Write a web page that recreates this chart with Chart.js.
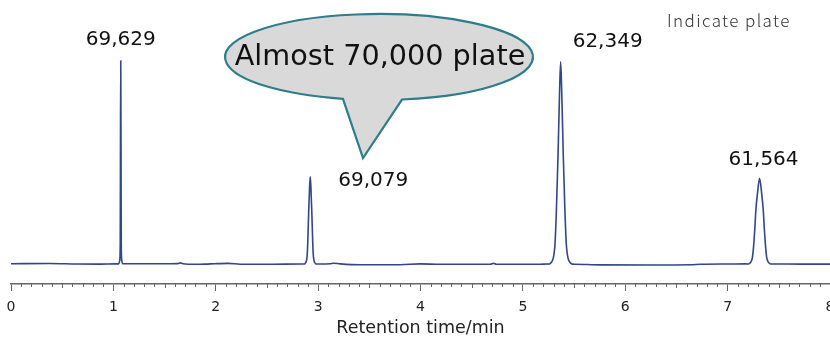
<!DOCTYPE html>
<html>
<head>
<meta charset="utf-8">
<script src="https://cdn.jsdelivr.net/npm/chart.js@4.4.1/dist/chart.umd.min.js"></script>
<style>
  html, body { margin: 0; padding: 0; background: #fff; }
  #wrap { width: 830px; height: 337px; position: relative; }
</style>
</head>
<body>
<div id="wrap"><canvas id="chrom"></canvas></div>
<script>
const times = [
  0.00, 0.38, 0.645, 0.87, 1.02,
  1.052, 1.062, 1.067, 1.069, 1.072, 1.075, 1.077, 1.082, 1.092,
  1.163, 1.554, 1.632, 1.652, 1.68, 1.80, 1.90, 1.994, 2.12, 2.24, 2.53, 2.825,
  2.869, 2.879, 2.888, 2.894, 2.899, 2.906, 2.917, 2.923, 2.929, 2.940, 2.947, 2.952, 2.958, 2.967, 2.977,
  3.02, 3.118, 3.148, 3.216, 3.41, 3.80, 3.998, 4.194, 4.682, 4.712, 4.741, 5.17, 5.24,
  5.257, 5.271, 5.286, 5.298, 5.307, 5.314, 5.320, 5.328, 5.343, 5.359, 5.369,
  5.379, 5.395, 5.410, 5.418, 5.424, 5.431, 5.440, 5.452, 5.467, 5.481,
  5.513, 5.757, 6.246, 6.637, 6.735, 7.03, 7.18,
  7.204, 7.214, 7.229, 7.242, 7.249, 7.256, 7.265, 7.276, 7.292, 7.312,
  7.332, 7.348, 7.359, 7.368, 7.375, 7.382, 7.395, 7.410, 7.420,
  7.468, 7.713, 8.00
];
const signal = [
  0, 0.2, -0.3, -0.4, -0.2,
  -0.2, 3, 20, 100, 203, 100, 20, 3, 0,
  0, 0, 0.1, 0.8, 0, -0.6, -0.4, 0, 0.3, -0.5, -0.6, -0.3,
  -0.3, 1.2, 4, 10, 22, 46, 78, 87, 78, 46, 22, 10, 4, 1.2, -0.3,
  -0.3, -0.1, 0.5, -0.2, -1.1, -1.0, -0.2, -0.6, -0.6, 0.3, -0.6, -0.5, -0.3,
  -0.4, 0.5, 2.5, 6, 12, 20, 33, 55, 107, 174, 202,
  174, 107, 55, 33, 20, 12, 6, 2.5, 0.5, -0.4,
  -0.5, -1.2, -1.3, -1.1, -0.6, -0.3, -0.2,
  -0.25, 0.3, 2, 6, 12, 20.4, 34, 53.7, 70.7, 85.4,
  70.7, 53.7, 34, 20.4, 12, 6, 2, 0.3, -0.25,
  -0.3, -0.4, -0.4
];

// Picos marcados y su número de platos
const peakTimes = [1.072, 2.923, 5.369, 7.312];
const plateCounts = ['69,629', '69,079', '62,349', '61,564'];

const xTickStep = 1;
const minorStep = 0.1;

const points = times.map((t, i) => ({ x: t, y: signal[i] }));

// Dibuja las marcas menores, las etiquetas de los picos y el globo
const extrasPlugin = {
    id: 'extras',
    afterDraw(chart) {
        const ctx = chart.ctx;
        const xs = chart.scales.x;
        const ys = chart.scales.y;
        const bottom = chart.chartArea.bottom;

        // marcas menores del eje x
        ctx.save();
        ctx.strokeStyle = '#666';
        ctx.lineWidth = 1;
        for (let i = 1; i < 80; i++) {
            if (i % 10 === 0) continue;
            const px = Math.round(xs.getPixelForValue(i * minorStep)) + 0.5;
            const len = (i % 5 === 0) ? 4 : 3;
            ctx.beginPath();
            ctx.moveTo(px, bottom);
            ctx.lineTo(px, bottom + len);
            ctx.stroke();
        }
        ctx.restore();

        // etiquetas de platos
        const offsets = [[0, -21], [63, 4.5], [47, -20], [4, -19]];
        ctx.save();
        ctx.fillStyle = '#111';
        ctx.font = '20px "DejaVu Sans"';
        ctx.textAlign = 'center';
        ctx.textBaseline = 'middle';
        peakTimes.forEach((t, i) => {
            const h = signal[times.indexOf(t)];
            const px = xs.getPixelForValue(t) + offsets[i][0];
            const py = ys.getPixelForValue(h) + offsets[i][1];
            ctx.fillText(plateCounts[i], px, py);
        });
        ctx.restore();

        // globo de texto
        const cx = 379, cy = 57, rx = 154, ry = 43;
        ctx.save();
        ctx.beginPath();
        ctx.ellipse(cx, cy, rx, ry, 0, 1.421, 1.807, true);
        ctx.lineTo(363, 158);
        ctx.closePath();
        ctx.fillStyle = '#d9d9d9';
        ctx.fill();
        ctx.strokeStyle = '#2e7d8c';
        ctx.lineWidth = 2.2;
        ctx.stroke();
        ctx.fillStyle = '#111';
        ctx.font = '28.7px "DejaVu Sans"';
        ctx.textAlign = 'center';
        ctx.textBaseline = 'middle';
        ctx.fillText('Almost 70,000 plate', 380, 58);
        ctx.restore();

        // nota arriba a la derecha
        ctx.save();
        ctx.fillStyle = '#333';
        ctx.font = '300 17px "Noto Sans CJK JP"';
        ctx.letterSpacing = '1.4px';
        ctx.textAlign = 'left';
        ctx.textBaseline = 'middle';
        ctx.fillText('Indicate plate', 667, 21);
        ctx.restore();
    }
};

const ctxChrom = document.getElementById('chrom').getContext('2d');
new Chart(ctxChrom, {
    type: 'line',
    data: {
        datasets: [{
            data: points,
            borderColor: '#32468a',
            borderWidth: 1.6,
            pointRadius: 0,
            fill: false,
            cubicInterpolationMode: 'monotone'
        }]
    },
    options: {
        responsive: true,
        maintainAspectRatio: false,
        animation: false,
        devicePixelRatio: 1,
        layout: { padding: { left: 11, right: 0, top: 10, bottom: 0 } },
        plugins: {
            legend: { display: false },
            tooltip: { enabled: false }
        },
        scales: {
            x: {
                type: 'linear',
                min: 0,
                max: 8,
                ticks: {
                    stepSize: xTickStep,
                    color: '#222',
                    font: { family: 'DejaVu Sans', size: 14 },
                    padding: 8,
                    maxRotation: 0,
                    autoSkip: false
                },
                grid: {
                    drawOnChartArea: false,
                    drawTicks: true,
                    tickLength: 7,
                    tickColor: '#666',
                    tickWidth: 1
                },
                border: { display: true, color: '#666', width: 1.5 },
                title: {
                    display: true,
                    text: 'Retention time/min',
                    color: '#222',
                    font: { family: 'DejaVu Sans', size: 17.5, lineHeight: 1 },
                    padding: { top: 0, bottom: 0 }
                },
                afterFit(scale) {
                    scale.paddingLeft = 0;
                    scale.paddingRight = 0;
                    scale.height = 53;
                }
            },
            y: {
                display: false,
                min: -20.3,
                max: 253.7
            }
        }
    },
    plugins: [extrasPlugin]
});
</script>
</body>
</html>
